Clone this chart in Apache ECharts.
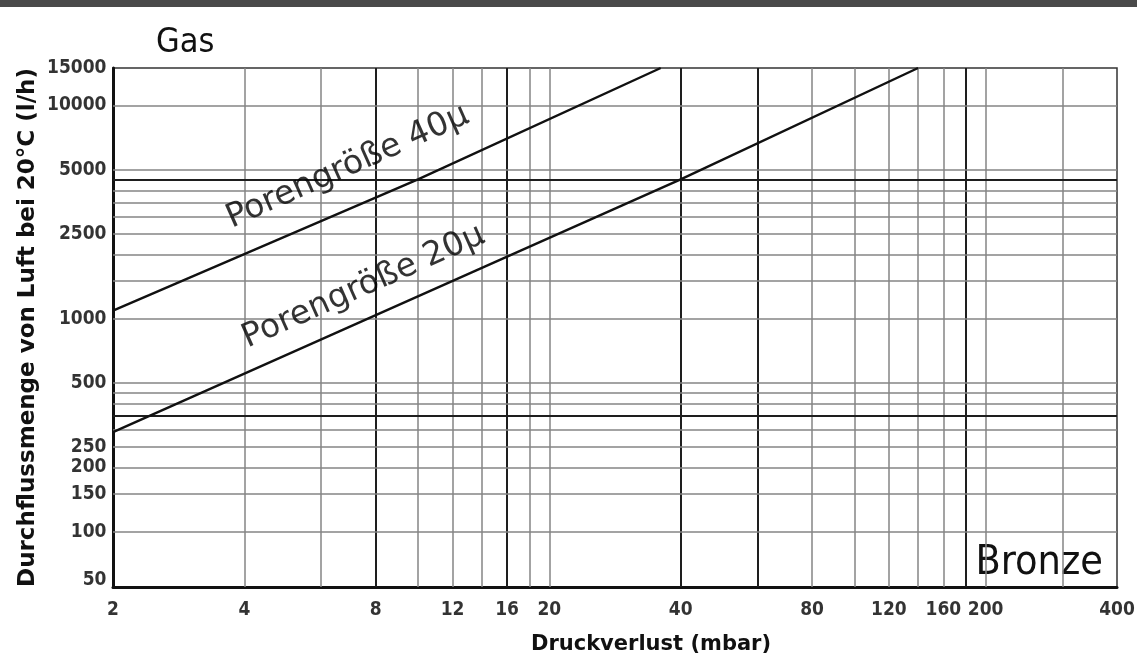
<!DOCTYPE html>
<html>
<head>
<meta charset="utf-8">
<script src="https://cdn.jsdelivr.net/npm/echarts@6/dist/echarts.min.js"></script>
<style>html,body{margin:0;padding:0;background:#fff}#c{width:1137px;height:660px}</style>
</head>
<body>
<div id="c"></div>
<script>
// ---- data ----
const xTickValues = [2, 4, 8, 12, 16, 20, 40, 80, 120, 160, 200, 400];
const xTickLabels = ['2', '4', '8', '12', '16', '20', '40', '80', '120', '160', '200', '400'];
const yTickValues = [15000, 10000, 5000, 2500, 1000, 500, 250, 200, 150, 100, 50];
const yTickLabels = ['15000', '10000', '5000', '2500', '1000', '500', '250', '200', '150', '100', '50'];
const xGridThin = [4, 6, 10, 12, 14, 18, 20, 80, 100, 120, 140, 160, 200, 300];
const xGridThick = [8, 16, 40, 60, 180];
const yGridThin = [10000, 5000, 4000, 3500, 3000, 2500, 2000, 1500, 1000, 500, 450, 400, 300, 250, 200, 150, 100];
const yGridThick = [4500, 350];
const curveNames = ['Porengröße 40μ', 'Porengröße 20μ'];
const pore40 = [[2, 1090], [10, 4500], [36, 15000]];
const pore20 = [[2, 293], [40, 4500], [140, 15000]];
const X_MIN = 2, X_MAX = 400, Y_MIN = 55, Y_MAX = 15000;

// ---- chart ----
const FONT = '"DejaVu Sans Condensed","Liberation Sans Narrow","DejaVu Sans",sans-serif';
const WIDE = '"DejaVu Sans",sans-serif';
const chart = echarts.init(document.getElementById('c'), null, { renderer: 'canvas' });
const thin = { color: '#858585', width: 1.5, type: 'solid' };
const thick = { color: '#1e1e1e', width: 2, type: 'solid' };
const gridLines = [].concat(
  xGridThin.map(v => ({ xAxis: v, lineStyle: thin })),
  xGridThick.map(v => ({ xAxis: v, lineStyle: thick })),
  yGridThin.map(v => ({ yAxis: v, lineStyle: thin })),
  yGridThick.map(v => ({ yAxis: v, lineStyle: thick }))
);

const option = {
  animation: false,
  backgroundColor: '#fff',
  grid: { left: 113, right: 20, top: 68, bottom: 72, show: true, borderColor: '#333', borderWidth: 1.5, backgroundColor: 'transparent' },
  xAxis: {
    type: 'log', logBase: 2, min: X_MIN, max: X_MAX,
    axisLine: { show: true, onZero: false, lineStyle: { color: '#111', width: 3 } },
    axisTick: { show: false }, axisLabel: { show: false }, splitLine: { show: false }, minorSplitLine: { show: false },
    name: 'Druckverlust (mbar)', nameLocation: 'middle', nameGap: 47,
    nameTextStyle: { fontFamily: WIDE, fontSize: 21, fontWeight: 'bold', color: '#111', padding: [0, 0, 0, 72] }
  },
  yAxis: {
    type: 'log', logBase: 10, min: Y_MIN, max: Y_MAX,
    axisLine: { show: true, onZero: false, lineStyle: { color: '#111', width: 3 } },
    axisTick: { show: false }, axisLabel: { show: false }, splitLine: { show: false }, minorSplitLine: { show: false },
    name: 'Durchflussmenge von Luft bei 20°C (l/h)', nameLocation: 'middle', nameGap: 73, nameRotate: 90,
    nameTextStyle: { fontFamily: WIDE, fontSize: 23, fontWeight: 'bold', color: '#111' }
  },
  graphic: [
    { type: 'rect', shape: { x: 0, y: 0, width: 1137, height: 7 }, style: { fill: '#4a4a4a' }, silent: true },
    { type: 'text', left: 156, top: 26, style: { text: 'Gas', font: '34px ' + FONT, fill: '#111' }, silent: true },
    { type: 'text', right: 34, top: 543, style: { text: 'Bronze', font: '41px ' + FONT, fill: '#111' }, silent: true }
  ],
  series: [
    {
      type: 'line', name: 'grid', data: [], silent: true, z: 1,
      markLine: { silent: true, symbol: ['none', 'none'], label: { show: false }, animation: false, data: gridLines }
    },
    {
      type: 'line', name: curveNames[0], data: pore40, showSymbol: false, silent: true, z: 5,
      lineStyle: { color: '#111', width: 2.4 }
    },
    {
      type: 'line', name: curveNames[1], data: pore20, showSymbol: false, silent: true, z: 5,
      lineStyle: { color: '#111', width: 2.4 }
    },
    {
      type: 'scatter', name: 'curveLabels', silent: true, clip: false, symbolSize: 1, z: 6,
      itemStyle: { color: 'rgba(0,0,0,0)' },
      data: [
        { name: curveNames[0], value: [6.9, 5150] },
        { name: curveNames[1], value: [7.5, 1410] }
      ],
      label: { show: true, position: 'inside', rotate: 24, formatter: p => p.name, fontFamily: WIDE, fontSize: 33, color: '#000' }
    },
    {
      type: 'scatter', name: 'xTicks', silent: true, clip: false, symbolSize: 1, z: 6,
      itemStyle: { color: 'rgba(0,0,0,0)' },
      data: xTickValues.map((v, i) => ({ name: xTickLabels[i], value: [v, Y_MIN] })),
      label: { show: true, position: 'bottom', distance: 13, formatter: p => p.name, fontFamily: FONT, fontSize: 19, fontWeight: 'bold', color: '#000' }
    },
    {
      type: 'scatter', name: 'yTicks', silent: true, clip: false, symbolSize: 1, z: 6,
      itemStyle: { color: 'rgba(0,0,0,0)' },
      data: yTickValues.map((v, i) => {
        const item = { name: yTickLabels[i], value: [X_MIN, Math.max(v, Y_MIN)] };
        if (v < Y_MIN) item.label = { offset: [0, -7] };
        return item;
      }),
      label: { show: true, position: 'left', distance: 6, formatter: p => p.name, fontFamily: FONT, fontSize: 19, fontWeight: 'bold', color: '#000' }
    }
  ]
};
chart.setOption(option);
</script>
</body>
</html>
